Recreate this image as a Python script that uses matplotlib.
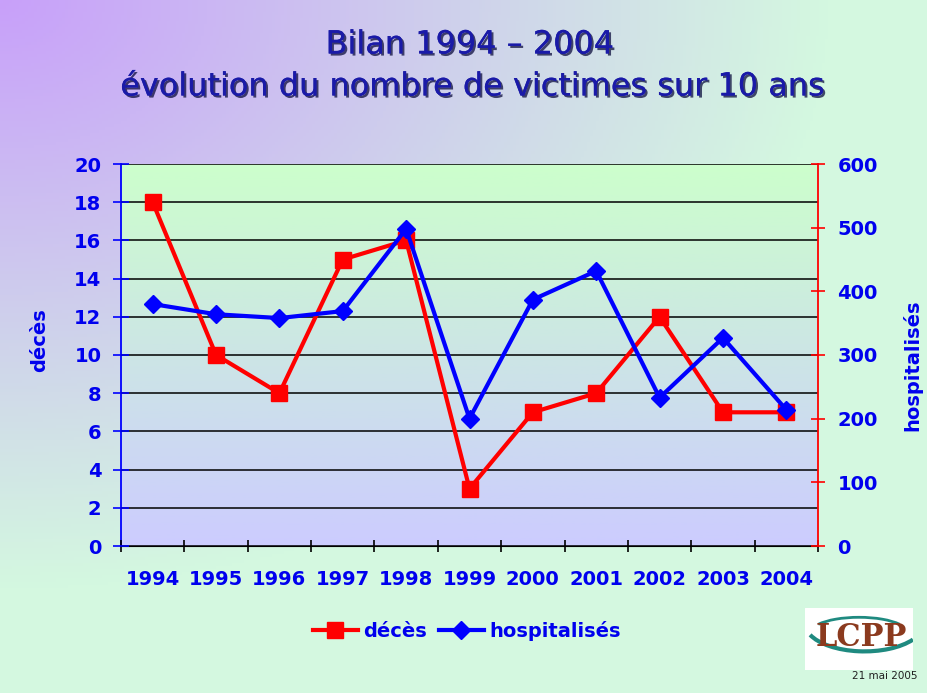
import numpy as np
import matplotlib
matplotlib.use("Agg")
import matplotlib.pyplot as plt
import matplotlib.patheffects as pe
from matplotlib.lines import Line2D
from matplotlib.patches import Rectangle, Arc
from matplotlib.colors import to_rgb

# data
years = ['1994', '1995', '1996', '1997', '1998', '1999', '2000', '2001', '2002', '2003', '2004']
deces = [18, 10, 8, 15, 16, 3, 7, 8, 12, 7, 7]
hospitalises = [380, 364, 358, 369, 498, 200, 387, 432, 233, 327, 214]

W, H = 927, 693
fig = plt.figure(figsize=(W / 100, H / 100), dpi=100)

# slide background: purple in the top-left corner fading to pale green
bg = fig.add_axes([0, 0, 1, 1], zorder=-10)
xx, yy = np.meshgrid(np.linspace(0, 1, 300), np.linspace(0, 1, 230))
t = np.clip(np.sqrt((xx * 0.95) ** 2 + (yy * 1.0) ** 2) / 0.85, 0, 1)[..., None]
c1 = np.array(to_rgb('#c8a0fa'))
c2 = np.array(to_rgb('#d4f8e0'))
bg.imshow(c1 * (1 - t) + c2 * t, extent=[0, 1, 0, 1], aspect='auto', origin='upper')
bg.axis('off')

# main axes
ax = fig.add_axes([121 / W, 1 - 546 / H, 697 / W, 382 / H])
x = np.arange(len(years))
grad = np.linspace(0, 1, 200)[:, None, None]
top = np.array(to_rgb('#ccffcc'))
bot = np.array(to_rgb('#ccccff'))
ax.imshow(top * (1 - grad) + bot * grad, extent=[-0.5, 10.5, 0, 20],
          aspect='auto', origin='upper', zorder=0)

ax.plot(x, deces, color='#ff0000', lw=3, marker='s', ms=12, zorder=3)
ax.set_xlim(-0.5, 10.5)
ax.set_ylim(0, 20)
ax.set_yticks(np.arange(0, 21, 2))
ax.grid(axis='y', color='black', lw=1.1, zorder=1)
ax.set_axisbelow(False)
ax.set_xticks(x)
ax.set_xticklabels(years)
ax.set_xticks(np.arange(-0.5, 11, 1), minor=True)
ax.tick_params(axis='x', which='major', length=0, pad=17, labelsize=14,
               labelcolor='#0000ee')
ax.tick_params(axis='x', which='minor', direction='inout', length=9, color='black', width=1.2)
ax.tick_params(axis='y', direction='inout', length=12, color='#0000ff', width=1.2,
               pad=8, labelsize=14, labelcolor='#0000ee')
for lab in ax.get_xticklabels() + ax.get_yticklabels():
    lab.set_fontweight('bold')
ax.spines['left'].set_color('#0000ff')
ax.spines['left'].set_linewidth(1.3)
ax.spines['bottom'].set_color('black')
ax.spines['top'].set_visible(False)
ax.spines['right'].set_visible(False)

ax2 = ax.twinx()
ax2.plot(x, hospitalises, color='#0000ff', lw=3, marker='D', ms=9, zorder=4)
ax2.set_ylim(0, 600)
ax2.set_yticks(np.arange(0, 601, 100))
ax2.tick_params(axis='y', direction='inout', length=10, color='#ff0000', width=1.2,
                pad=9, labelsize=14, labelcolor='#0000ee')
for lab in ax2.get_yticklabels():
    lab.set_fontweight('bold')
ax2.spines['right'].set_color('#ff0000')
ax2.spines['right'].set_linewidth(1.3)
for s in ['top', 'left', 'bottom']:
    ax2.spines[s].set_visible(False)

# axis titles
fig.text(40 / W, 1 - 340 / H, 'décès', rotation=90, ha='center', va='center',
         fontsize=14, fontweight='bold', color='#0000ee')
fig.text(912 / W, 1 - 365 / H, 'hospitalisés', rotation=90, ha='center', va='center',
         fontsize=14, fontweight='bold', color='#0000ee')

# title with a small drop shadow
shadow = [pe.withSimplePatchShadow(offset=(1.5, -1.5), shadow_rgbFace='#000033', alpha=0.7),
          pe.Normal()]
fig.text(470 / W, 1 - 45 / H, 'Bilan 1994 – 2004', ha='center', va='center',
         fontsize=23, color='#1a1aa8', path_effects=shadow)
fig.text(473 / W, 1 - 87 / H, 'évolution du nombre de victimes sur 10 ans', ha='center',
         va='center', fontsize=23, color='#1a1aa8', path_effects=shadow)

# legend
handles = [Line2D([], [], color='#ff0000', lw=3, marker='s', ms=12),
           Line2D([], [], color='#0000ff', lw=3, marker='D', ms=9)]
leg = fig.legend(handles, ['décès', 'hospitalisés'], loc='center', ncol=2,
                 bbox_to_anchor=(467 / W, 1 - 631 / H), frameon=False,
                 prop={'size': 14, 'weight': 'bold'}, handlelength=2.3,
                 handletextpad=0.3, columnspacing=0.6)
for txt in leg.get_texts():
    txt.set_color('#0000ee')

# LCPP logo and date
logo = fig.add_axes([805 / W, 1 - 670 / H, 108 / W, 62 / H])
logo.add_patch(Rectangle((0, 0), 1, 1, color='white', transform=logo.transAxes))
logo.add_patch(Arc((0.55, 0.75), 1.1, 0.9, theta1=200, theta2=330, color='#1f8a80', lw=3))
logo.add_patch(Arc((0.5, 0.6), 0.9, 0.5, theta1=20, theta2=160, color='#1f8a80', lw=2))
logo.text(0.52, 0.52, 'LCPP', ha='center', va='center', fontsize=22, fontweight='bold',
          family='DejaVu Serif', color='#8b3a1e')
logo.set_xlim(0, 1)
logo.set_ylim(0, 1)
logo.axis('off')
fig.text(885 / W, 1 - 676 / H, '21 mai 2005', ha='center', va='center', fontsize=7.5,
         color='#202020')

fig.savefig('out.png', dpi=100)
